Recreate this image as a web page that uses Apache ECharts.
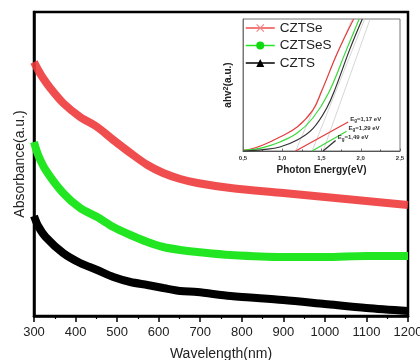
<!DOCTYPE html>
<html>
<head>
<meta charset="utf-8">
<script src="https://cdn.jsdelivr.net/npm/echarts@6/dist/echarts.min.js"></script>
<style>
html,body{margin:0;padding:0;background:#fff;}
#c{width:420px;height:360px;}
</style>
</head>
<body>
<div id="c"></div>
<script>
// ---- main chart data (absorbance, arbitrary units) ----
var wavelengths = [300, 310, 320, 339, 370, 411, 452, 491, 532, 573, 611, 652, 693, 773, 900, 1000, 1100, 1200];
var czTSeAbs   = [254, 246, 239, 228, 213, 199, 189, 176, 163, 151, 143, 137, 133, 128, 123, 119, 115, 111];
var wavelengthsG = [300, 310, 328, 370, 411, 452, 491, 532, 573, 611, 652, 693, 773, 900, 1000, 1100, 1200];
var czTSeSAbs  = [174, 161, 146, 123, 108, 99, 89, 81, 74, 69, 66, 64, 61, 59, 59, 60, 60];
var czTSAbs    = [100, 90, 79, 63, 53, 46, 39, 34, 31, 28, 25, 24, 20, 16, 12, 8, 5];
var xTicks = [300, 400, 500, 600, 700, 800, 900, 1000, 1100, 1200];

// ---- inset (Tauc plot) data ----
var insetRedE   = [0.5, 0.6, 0.755, 0.97, 1.19, 1.39, 1.5, 1.7, 1.91];
var insetRedV   = [0.5, 1.5, 4.5, 10.6, 18.2, 31, 45, 74, 100];
var insetGreenE = [0.5, 0.6, 0.755, 0.97, 1.19, 1.39, 1.59, 1.82, 1.98];
var insetGreenV = [0.5, 1, 2.5, 6.8, 13.6, 25, 44, 77, 100];
var insetBlackE = [0.5, 0.6, 0.755, 0.97, 1.19, 1.39, 1.57, 1.68, 1.86, 2.02];
var insetBlackV = [0, 0.3, 1, 3, 8.3, 17, 33, 48, 77, 100];
var tangentStartE = [1.17, 1.38, 1.52];
var tangentEndE   = [1.89, 2.05, 2.12];
var arrowTipE = [1.84, 1.82, 1.68];
var arrowTipV = [22, 15, 8];
var gapLabels = ['1,17', '1,29', '1,49'];
var insetTicks = ['0,5', '1,0', '1,5', '2,0', '2,5'];

var seriesNames = ['CZTSe', 'CZTSeS', 'CZTS'];
var colors = ['#ee3b3b', '#22e622', '#000000'];
var insetColors = ['#e63c3c', '#3ad83a', '#333333'];

function zip(a, b) { return a.map(function (v, i) { return [v, b[i]]; }); }

var xSym = 'path://M1,0L5,4L9,0L10,1L6,5L10,9L9,10L5,6L1,10L0,9L4,5L0,1Z';

var chart = echarts.init(document.getElementById('c'), null, {renderer: 'canvas'});
var font = "'Liberation Sans', Arial, sans-serif";

var series = [
  {name: seriesNames[0], type: 'line', xAxisIndex: 0, yAxisIndex: 0, data: zip(wavelengths, czTSeAbs),
   smooth: 0.3, showSymbol: false, symbol: xSym, symbolSize: 8,
   itemStyle: {color: '#f08080'}, lineStyle: {color: colors[0], width: 8, opacity: 0.9}, z: 3},
  {name: seriesNames[1], type: 'line', xAxisIndex: 0, yAxisIndex: 0, data: zip(wavelengthsG, czTSeSAbs),
   smooth: 0.3, showSymbol: false, symbol: 'circle', symbolSize: 8,
   itemStyle: {color: '#12d812'}, lineStyle: {color: colors[1], width: 8}, z: 3},
  {name: seriesNames[2], type: 'line', xAxisIndex: 0, yAxisIndex: 0, data: zip(wavelengthsG, czTSAbs),
   smooth: 0.3, showSymbol: false, symbol: 'triangle', symbolSize: 9,
   itemStyle: {color: '#000'}, lineStyle: {color: colors[2], width: 8}, z: 3},
  // inset curves
  {type: 'line', xAxisIndex: 1, yAxisIndex: 1, data: zip(insetRedE, insetRedV), smooth: 0.4, showSymbol: false,
   lineStyle: {color: insetColors[0], width: 1.2}, silent: true, z: 6},
  {type: 'line', xAxisIndex: 1, yAxisIndex: 1, data: zip(insetGreenE, insetGreenV), smooth: 0.4, showSymbol: false,
   lineStyle: {color: insetColors[1], width: 1.2}, silent: true, z: 6},
  {type: 'line', xAxisIndex: 1, yAxisIndex: 1, data: zip(insetBlackE, insetBlackV), smooth: 0.4, showSymbol: false,
   lineStyle: {color: insetColors[2], width: 1.2}, silent: true, z: 6}
];
// tangents
for (var i = 0; i < 3; i++) {
  series.push({type: 'line', xAxisIndex: 1, yAxisIndex: 1, data: [[tangentStartE[i], 0], [tangentEndE[i], 100]],
    showSymbol: false, lineStyle: {color: '#c4c4c4', width: 0.7}, silent: true, z: 5});
}
// arrows with labels
for (var j = 0; j < 3; j++) {
  (function (k) {
    series.push({type: 'line', xAxisIndex: 1, yAxisIndex: 1,
      data: [[tangentStartE[k], 0], {value: [arrowTipE[k], arrowTipV[k]],
        label: {show: true, position: 'right', distance: 2, offset: [0, -3],
          formatter: '{e|E}{s|g}{e|=' + gapLabels[k] + ' eV}',
          rich: {e: {fontSize: 6, fontWeight: 'bold', color: '#333', fontFamily: font},
                 s: {fontSize: 4.5, fontWeight: 'bold', color: '#333', fontFamily: font, verticalAlign: 'bottom', padding: [4, 0, 0, 0]}}}}],
      symbol: ['none', 'arrow'], symbolSize: [0, 5], showSymbol: true,
      itemStyle: {color: insetColors[k]},
      lineStyle: {color: insetColors[k], width: 1.3}, silent: true, z: 6});
  })(j);
}

var option = {
  animation: false,
  backgroundColor: '#fff',
  grid: [
    {left: 34, right: 12, top: 12, bottom: 44, show: true, borderColor: '#000', borderWidth: 2.5,
     containLabel: false, outerBoundsMode: 'none'},
    {left: 243, right: 20, top: 19, bottom: 209, show: true, borderColor: '#777', borderWidth: 1, backgroundColor: '#fff', z: 4,
     containLabel: false, outerBoundsMode: 'none'}
  ],
  legend: {
    data: seriesNames, orient: 'vertical', left: 240, top: 16, itemWidth: 29, itemHeight: 10, itemGap: 3.5,
    textStyle: {fontSize: 13.5, fontFamily: font, color: '#222'}, lineStyle: {width: 1.5}, z: 10
  },
  xAxis: [
    {type: 'value', gridIndex: 0, min: 300, max: 1200, interval: 100,
     name: 'Wavelength(nm)', nameLocation: 'middle', nameGap: 31,
     nameTextStyle: {fontSize: 14, fontFamily: font, color: '#222'},
     axisLine: {show: true, onZero: false, lineStyle: {color: '#000', width: 2.5}},
     axisTick: {show: true, inside: false, length: 6, lineStyle: {color: '#000', width: 1.5}},
     minorTick: {show: true, splitNumber: 2, length: 3, lineStyle: {color: '#000', width: 1.2}},
     axisLabel: {fontSize: 13, fontFamily: font, color: '#222', margin: 10, showMaxLabel: true, showMinLabel: true,
       formatter: function (v) { return xTicks.indexOf(v) >= 0 ? String(v) : ''; }},
     splitLine: {show: false}},
    {type: 'value', gridIndex: 1, min: 0.5, max: 2.5, interval: 0.5,
     name: 'Photon Energy(eV)', nameLocation: 'middle', nameGap: 14,
     nameTextStyle: {fontSize: 10, fontWeight: 'bold', fontFamily: font, color: '#222'},
     axisLine: {show: true, onZero: false, lineStyle: {color: '#555', width: 1}},
     axisTick: {show: true, inside: true, length: 2.5, lineStyle: {color: '#555', width: 0.8}},
     minorTick: {show: true, splitNumber: 2, length: 1.5},
     axisLabel: {fontSize: 6, fontWeight: 'bold', fontFamily: font, color: '#333', margin: 4,
       formatter: function (v) { return insetTicks[Math.round((v - 0.5) / 0.5)] || ''; }},
     splitLine: {show: false}, z: 5}
  ],
  yAxis: [
    {type: 'value', gridIndex: 0, min: 0, max: 304,
     name: 'Absorbance(a.u.)', nameLocation: 'middle', nameGap: 7,
     nameTextStyle: {fontSize: 14, fontFamily: font, color: '#222'},
     axisLine: {show: true, lineStyle: {color: '#000', width: 2.5}},
     axisTick: {show: false}, axisLabel: {show: false}, splitLine: {show: false}},
    {type: 'value', gridIndex: 1, min: 0, max: 100,
     name: '{a|ahv}{s|2}{a|(a.u.)}', nameLocation: 'middle', nameGap: 9, nameRotate: 90,
     nameTextStyle: {rich: {a: {fontSize: 10, fontWeight: 'bold', fontFamily: font, color: '#222'},
                            s: {fontSize: 7.5, fontWeight: 'bold', fontFamily: font, color: '#222', verticalAlign: 'top', padding: [0, 0, 4, 0]}}},
     axisLine: {show: true, lineStyle: {color: '#777', width: 1}},
     axisTick: {show: false}, axisLabel: {show: false}, splitLine: {show: false}, z: 5}
  ],
  series: series
};
chart.setOption(option);
</script>
</body>
</html>
